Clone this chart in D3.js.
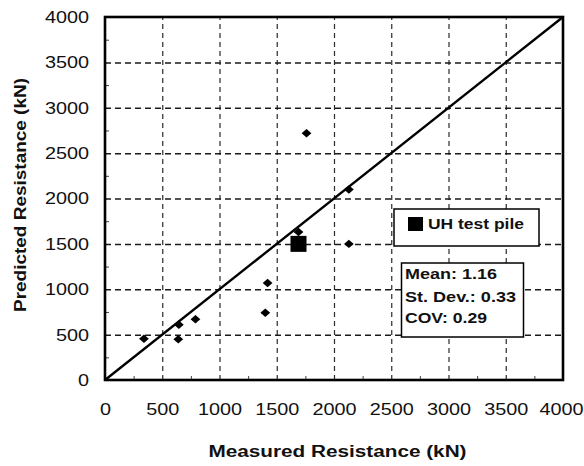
<!DOCTYPE html>
<html>
<head>
<meta charset="utf-8">
<script src="https://cdn.jsdelivr.net/npm/d3@7"></script>
<style>
  html, body { margin: 0; padding: 0; background: #fff; }
  svg { display: block; }
</style>
</head>
<body>
<svg id="chart" width="584" height="466"></svg>
<script>
// ---- data ----
const measured = [340, 645, 640, 790, 1400, 1420, 1760, 2130, 2130, 1690];
const predicted = [455, 610, 450, 670, 740, 1070, 2720, 2100, 1500, 1630];
const uhMeasured = [1690];
const uhPredicted = [1500];
const majorTicks = [0, 500, 1000, 1500, 2000, 2500, 3000, 3500, 4000];
const minorTicks = [250, 750, 1250, 1750, 2250, 2750, 3250, 3750];
const lineX = [0, 4000];
const lineY = [0, 4000];
const legendLabel = "UH test pile";
const statsLines = ["Mean: 1.16", "St. Dev.: 0.33", "COV: 0.29"];
const xTitle = "Measured Resistance (kN)";
const yTitle = "Predicted Resistance (kN)";

// ---- layout ----
const svg = d3.select("#chart");
const L = 105, R = 563, T = 17, B = 380;
const W = R - L, H = B - T;
const FONT = "'Liberation Sans', Arial, sans-serif";
const SX = 1.24;

const x = d3.scaleLinear().domain([0, 4000]).range([L, R]);
const y = d3.scaleLinear().domain([0, 4000]).range([B, T]);

// gridlines
const gx = svg.append("g").attr("transform", `translate(0,${B})`)
  .call(d3.axisBottom(x).tickValues(majorTicks.slice(1, -1)).tickSize(-H).tickFormat(""));
gx.select(".domain").remove();
gx.selectAll("line").attr("stroke", "#2a2a2a").attr("stroke-width", 1.2).attr("stroke-dasharray", "5,4");

const gy = svg.append("g").attr("transform", `translate(${L},0)`)
  .call(d3.axisLeft(y).tickValues(majorTicks.slice(1, -1)).tickSize(-W).tickFormat(""));
gy.select(".domain").remove();
gy.selectAll("line").attr("stroke", "#1a1a1a").attr("stroke-width", 1.5).attr("stroke-dasharray", "6,4");

// minor ticks inside
const mx = svg.append("g").attr("transform", `translate(0,${B})`)
  .call(d3.axisBottom(x).tickValues(minorTicks).tickSize(-4).tickFormat(""));
mx.select(".domain").remove();
mx.selectAll("line").attr("stroke", "#444").attr("stroke-width", 1);
const my = svg.append("g").attr("transform", `translate(${L},0)`)
  .call(d3.axisLeft(y).tickValues(minorTicks).tickSize(-4).tickFormat(""));
my.select(".domain").remove();
my.selectAll("line").attr("stroke", "#444").attr("stroke-width", 1);

// 1:1 line
svg.append("line")
  .attr("x1", x(lineX[0])).attr("y1", y(lineY[0]))
  .attr("x2", x(lineX[1])).attr("y2", y(lineY[1]))
  .attr("stroke", "#000").attr("stroke-width", 2.4);

// frame
svg.append("rect").attr("x", L).attr("y", T).attr("width", W).attr("height", H)
  .attr("fill", "none").attr("stroke", "#000").attr("stroke-width", 2.6);

// tick labels
const ax = svg.append("g").attr("transform", `translate(0,${B})`)
  .call(d3.axisBottom(x).tickValues(majorTicks).tickSize(0).tickFormat(d3.format("d")));
ax.select(".domain").remove();
ax.selectAll("text").attr("y", 35).attr("dy", 0).attr("x", 0)
  .attr("transform", `scale(${SX},1)`)
  .attr("font-family", FONT).attr("font-size", 16).attr("fill", "#111");
// last label would run past the right edge: keep it fully inside
ax.selectAll("text").filter(d => d === 4000)
  .attr("text-anchor", "end").attr("x", (583 - x(4000)) / SX);

const ay = svg.append("g").attr("transform", `translate(${L},0)`)
  .call(d3.axisLeft(y).tickValues(majorTicks).tickSize(0).tickFormat(d3.format("d")));
ay.select(".domain").remove();
ay.selectAll("text").attr("x", -16 / SX).attr("dy", "0.34em")
  .attr("transform", `scale(${SX},1)`)
  .attr("font-family", FONT).attr("font-size", 16).attr("fill", "#111");

// data points (diamonds)
const diamond = d3.symbol().type(d3.symbolSquare).size(36);
svg.append("g").selectAll("path")
  .data(measured.map((m, i) => [m, predicted[i]]))
  .join("path")
  .attr("d", diamond)
  .attr("transform", d => `translate(${x(d[0])},${y(d[1])}) scale(1.15,1) rotate(45)`)
  .attr("fill", "#000");

// UH test pile square
svg.append("g").selectAll("rect")
  .data(uhMeasured.map((m, i) => [m, uhPredicted[i]]))
  .join("rect")
  .attr("x", d => x(d[0]) - 8).attr("y", d => y(d[1]) - 8)
  .attr("width", 16).attr("height", 16).attr("fill", "#000");

// legend box
svg.append("rect").attr("x", 394).attr("y", 209).attr("width", 145).attr("height", 37)
  .attr("fill", "#fff").attr("stroke", "#000").attr("stroke-width", 1.5);
svg.append("rect").attr("x", 408).attr("y", 217).attr("width", 15).attr("height", 14).attr("fill", "#000");
svg.append("text").attr("x", 428).attr("y", 228.5).text(legendLabel)
  .attr("font-family", FONT).attr("font-weight", "bold").attr("font-size", 15.5)
  .attr("textLength", 96).attr("lengthAdjust", "spacingAndGlyphs").attr("fill", "#111");

// stats box
svg.append("rect").attr("x", 401.5).attr("y", 263).attr("width", 122).attr("height", 74)
  .attr("fill", "#fff").attr("stroke", "#000").attr("stroke-width", 1.5);
const statsBase = [278.5, 301.5, 322.5];
const statsLen = [92, 111, 82];
svg.append("g").selectAll("text").data(statsLines).join("text")
  .attr("x", 405).attr("y", (d, i) => statsBase[i]).text(d => d)
  .attr("textLength", (d, i) => statsLen[i]).attr("lengthAdjust", "spacingAndGlyphs")
  .attr("font-family", FONT).attr("font-weight", "bold").attr("font-size", 15).attr("fill", "#111");

// axis titles
svg.append("text").attr("x", 337.5).attr("y", 457).attr("text-anchor", "middle")
  .text(xTitle).attr("font-family", FONT).attr("font-weight", "bold").attr("font-size", 16)
  .attr("textLength", 258).attr("lengthAdjust", "spacingAndGlyphs").attr("fill", "#111");

svg.append("text").attr("transform", "translate(26,195) rotate(-90)").attr("text-anchor", "middle")
  .text(yTitle).attr("font-family", FONT).attr("font-weight", "bold").attr("font-size", 16)
  .attr("textLength", 234).attr("lengthAdjust", "spacingAndGlyphs").attr("fill", "#111");
</script>
</body>
</html>
